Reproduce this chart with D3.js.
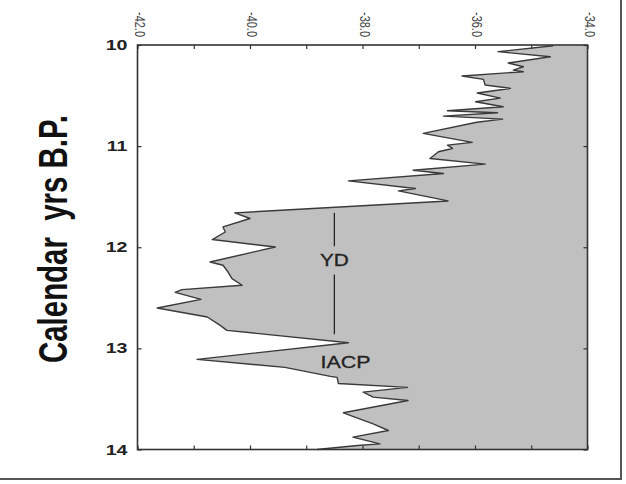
<html>
<head>
<script src="https://d3js.org/d3.v7.min.js"></script>
<style>
  body { margin: 0; background: #fff; }
  text { font-family: Arial, "Liberation Sans", sans-serif; }
</style>
</head>
<body>
<div id="chart"></div>
<script>
// isotope values (x) against age (calendar kyr BP)
var ages = [10.007, 10.066, 10.116, 10.178, 10.215, 10.248, 10.264, 10.307, 10.340, 10.396,
            10.429, 10.475, 10.525, 10.561, 10.611, 10.650, 10.670, 10.703, 10.733, 10.764,
            10.874, 10.963, 10.990, 11.023, 11.056, 11.122, 11.178, 11.238, 11.270, 11.344,
            11.419, 11.443, 11.542, 11.660, 11.716, 11.799, 11.849, 11.924, 11.997, 12.146,
            12.178, 12.245, 12.310, 12.376, 12.419, 12.446, 12.515, 12.601, 12.690, 12.772,
            12.822, 12.944, 13.109, 13.188, 13.277, 13.287, 13.347, 13.386, 13.433, 13.482,
            13.515, 13.637, 13.746, 13.812, 13.878, 13.944, 13.960, 14.000];
var values = [-34.61, -35.59, -34.66, -35.41, -35.14, -35.32, -35.14, -36.23, -35.85, -35.82,
              -35.37, -35.96, -35.55, -35.99, -35.50, -36.49, -35.60, -36.56, -35.51, -35.97,
              -36.92, -36.05, -36.49, -36.40, -36.65, -36.80, -35.82, -37.10, -36.56, -38.25,
              -37.06, -37.36, -36.48, -40.27, -40.00, -40.48, -40.44, -40.67, -39.55, -40.71,
              -40.48, -40.39, -40.32, -40.14, -41.21, -41.33, -40.87, -41.65, -40.76, -40.53,
              -40.41, -38.25, -40.94, -39.38, -38.57, -38.45, -38.43, -37.20, -37.99, -37.81,
              -37.19, -38.34, -37.81, -37.54, -38.17, -37.69, -38.09, -38.81];
var xTickLabels = [-42.0, -40.0, -38.0, -36.0, -34.0];
var yTickLabels = [10, 11, 12, 13, 14];
var ydSpan = [11.66, 12.86];   // bar marking the Younger Dryas
var ydValue = -38.5;

var W = 626, H = 484;
var margin = {top: 45, right: 38.5, bottom: 34.5, left: 137.5};
var width = W - margin.left - margin.right,
    height = H - margin.top - margin.bottom;

var svg = d3.select("#chart").append("svg")
    .attr("width", W).attr("height", H);

// outer picture frame
svg.append("line").attr("x1", 621).attr("x2", 621).attr("y1", 0).attr("y2", 480)
    .attr("stroke", "#555").attr("stroke-width", 2);
svg.append("line").attr("x1", 0).attr("x2", 622).attr("y1", 479).attr("y2", 479)
    .attr("stroke", "#555").attr("stroke-width", 2);

var g = svg.append("g").attr("transform", "translate(" + margin.left + "," + margin.top + ")");

var x = d3.scaleLinear().domain([-42, -34]).range([0, width]);
var y = d3.scaleLinear().domain([10, 14]).range([0, height]);

var pts = ages.map(function(a, i) { return [values[i], a]; });

// grey fill from curve to right edge
var area = d3.area()
    .y(function(d) { return y(d[1]); })
    .x0(function(d) { return x(d[0]); })
    .x1(width);
g.append("path").datum(pts)
    .attr("fill", "#c0c0c0")
    .attr("d", area);

g.append("path").datum(pts)
    .attr("fill", "none")
    .attr("stroke", "#3a3a3a")
    .attr("stroke-width", 1.4)
    .attr("stroke-linejoin", "round")
    .attr("d", d3.line().x(function(d) { return x(d[0]); }).y(function(d) { return y(d[1]); }));

// YD bar with label gap
g.append("line")
    .attr("x1", x(ydValue)).attr("x2", x(ydValue))
    .attr("y1", y(ydSpan[0])).attr("y2", y(11.99))
    .attr("stroke", "#222").attr("stroke-width", 1.3);
g.append("line")
    .attr("x1", x(ydValue)).attr("x2", x(ydValue))
    .attr("y1", y(12.27)).attr("y2", y(ydSpan[1]))
    .attr("stroke", "#222").attr("stroke-width", 1.3);
g.append("text")
    .attr("transform", "translate(" + x(ydValue) + "," + (y(12.13) + 6) + ") scale(1.3,1)")
    .attr("text-anchor", "middle")
    .attr("font-size", 16).attr("fill", "#222")
    .attr("stroke", "#222").attr("stroke-width", 0.3)
    .text("YD");
g.append("text")
    .attr("transform", "translate(" + x(-38.3) + "," + (y(13.13) + 6.5) + ") scale(1.3,1)")
    .attr("text-anchor", "middle")
    .attr("font-size", 16.5).attr("fill", "#222")
    .attr("stroke", "#222").attr("stroke-width", 0.3)
    .text("IACP");

// inner ticks on all four sides
var topAxis = d3.axisTop(x).tickValues(d3.range(-42, -33, 1)).tickSize(-4).tickFormat("");
var botAxis = d3.axisBottom(x).tickValues(d3.range(-42, -33, 1)).tickSize(-4).tickFormat("");
var leftAxis = d3.axisLeft(y).tickValues(yTickLabels).tickSize(-4).tickFormat("");
var rightAxis = d3.axisRight(y).tickValues(yTickLabels).tickSize(-4).tickFormat("");
g.append("g").call(topAxis);
g.append("g").attr("transform", "translate(0," + height + ")").call(botAxis);
g.append("g").call(leftAxis);
g.append("g").attr("transform", "translate(" + width + ",0)").call(rightAxis);
g.selectAll(".domain").remove();
g.selectAll(".tick line").attr("stroke", "#333").attr("stroke-width", 1.2);

// frame of the plot
g.append("rect")
    .attr("width", width).attr("height", height)
    .attr("fill", "none").attr("stroke", "#333").attr("stroke-width", 1.6);

// rotated top labels
g.selectAll(".xlab").data(xTickLabels).enter().append("text")
    .attr("class", "xlab")
    .attr("transform", function(d) { return "translate(" + (x(d) + 1) + ",-33) scale(1.35,1) rotate(90)"; })
    .attr("dominant-baseline", "middle")
    .attr("font-size", 11).attr("fill", "#444")
    .text(function(d) { return d.toFixed(1); });

// left tick labels
g.selectAll(".ylab").data(yTickLabels).enter().append("text")
    .attr("class", "ylab")
    .attr("transform", function(d) { return "translate(-10," + (y(d) + 5) + ") scale(1.4,1)"; })
    .attr("text-anchor", "end")
    .attr("font-size", 14).attr("font-weight", "bold").attr("fill", "#222")
    .text(function(d) { return d; });

// axis title
svg.append("text")
    .attr("transform", "translate(67,239) scale(1.4,1) rotate(-90)")
    .attr("text-anchor", "middle")
    .attr("font-size", 29).attr("font-weight", "bold").attr("fill", "#111")
    .attr("textLength", 248).attr("lengthAdjust", "spacingAndGlyphs")
    .style("white-space", "pre")
    .text("Calendar  yrs B.P.");
</script>
</body>
</html>
